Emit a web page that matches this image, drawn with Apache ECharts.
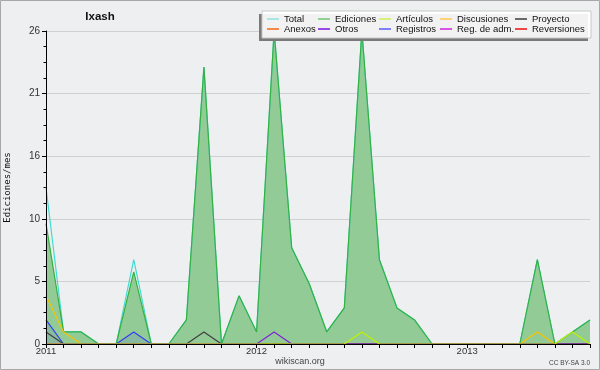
<!DOCTYPE html>
<html>
<head>
    <meta charset="UTF-8">
    <title>Ixash</title>
    <script src="https://cdn.jsdelivr.net/npm/echarts@6/dist/echarts.min.js"></script>
</head>
<body style="margin:0;background:#fff;">
<div id="chart" style="width:600px;height:370px;"></div>
<script type="text/javascript">
    // meses: ene 2011 - ago 2013
    var months = [
        '2011-01', '2011-02', '2011-03', '2011-04', '2011-05', '2011-06', '2011-07', '2011-08', '2011-09', '2011-10', '2011-11', '2011-12',
        '2012-01', '2012-02', '2012-03', '2012-04', '2012-05', '2012-06', '2012-07', '2012-08', '2012-09', '2012-10', '2012-11', '2012-12',
        '2013-01', '2013-02', '2013-03', '2013-04', '2013-05', '2013-06', '2013-07', '2013-08'
    ];
    var yTicks = [0, 5, 10, 16, 21, 26];

    var total       = [13, 1, 1, 0, 0, 7, 0, 0, 2, 23, 0, 4, 1, 26, 8, 5, 1, 3, 26, 7, 3, 2, 0, 0, 0, 0, 0, 0, 7, 0, 1, 2];
    var ediciones   = [10, 1, 1, 0, 0, 6, 0, 0, 2, 23, 0, 4, 1, 26, 8, 5, 1, 3, 26, 7, 3, 2, 0, 0, 0, 0, 0, 0, 7, 0, 1, 2];
    var articulos   = [0, 0, 0, 0, 0, 0, 0, 0, 0, 0, 0, 0, 0, 0, 0, 0, 0, 0, 1, 0, 0, 0, 0, 0, 0, 0, 0, 0, 0, 0, 1, 0];
    var discusiones = [4, 1, 0, 0, 0, 0, 0, 0, 0, 0, 0, 0, 0, 0, 0, 0, 0, 0, 0, 0, 0, 0, 0, 0, 0, 0, 0, 0, 1, 0, 0, 0];
    var proyecto    = [1, 0, 0, 0, 0, 0, 0, 0, 0, 1, 0, 0, 0, 0, 0, 0, 0, 0, 0, 0, 0, 0, 0, 0, 0, 0, 0, 0, 0, 0, 0, 0];
    var anexos      = [0, 0, 0, 0, 0, 0, 0, 0, 0, 0, 0, 0, 0, 0, 0, 0, 0, 0, 0, 0, 0, 0, 0, 0, 0, 0, 0, 0, 0, 0, 0, 0];
    var otros       = [0, 0, 0, 0, 0, 0, 0, 0, 0, 0, 0, 0, 0, 1, 0, 0, 0, 0, 0, 0, 0, 0, 0, 0, 0, 0, 0, 0, 0, 0, 0, 0];
    var registros   = [2, 0, 0, 0, 0, 1, 0, 0, 0, 0, 0, 0, 0, 0, 0, 0, 0, 0, 0, 0, 0, 0, 0, 0, 0, 0, 0, 0, 0, 0, 0, 0];
    var regAdm      = [0, 0, 0, 0, 0, 0, 0, 0, 0, 0, 0, 0, 0, 0, 0, 0, 0, 0, 0, 0, 0, 0, 0, 0, 0, 0, 0, 0, 0, 0, 0, 0];
    var reversiones = [0, 0, 0, 0, 0, 0, 0, 0, 0, 0, 0, 0, 0, 0, 0, 0, 0, 0, 0, 0, 0, 0, 0, 0, 0, 0, 0, 0, 0, 0, 0, 0];

    var font = 'Liberation Sans';
    var chart = echarts.init(document.getElementById('chart'));

    function line(name, color, data, area) {
        var s = {
            name: name,
            type: 'line',
            data: data,
            symbol: 'none',
            lineStyle: {color: color, width: 1.2},
            itemStyle: {color: color},
            emphasis: {disabled: true}
        };
        if (area) {
            s.areaStyle = area;
        }
        return s;
    }

    // leyenda en 2 filas x 5 columnas
    var legendItems = [
        {name: 'Total', color: '#a8e6e4'},
        {name: 'Ediciones', color: '#8fd394'},
        {name: 'Artículos', color: '#d4f27a'},
        {name: 'Discusiones', color: '#ffd27a'},
        {name: 'Proyecto', color: '#6a6a6a'},
        {name: 'Anexos', color: '#f58a4a'},
        {name: 'Otros', color: '#9a4ae6'},
        {name: 'Registros', color: '#8080f8'},
        {name: 'Reg. de adm.', color: '#d855e6'},
        {name: 'Reversiones', color: '#f04848'}
    ];
    var legendCols = [267, 318, 379, 440, 515];
    var legendRows = [14, 24];

    var legends = legendItems.map(function (it, i) {
        return {
            left: legendCols[i % 5],
            top: legendRows[Math.floor(i / 5)],
            data: [{name: it.name, itemStyle: {color: it.color}}],
            icon: 'rect',
            itemWidth: 12,
            itemHeight: 2,
            padding: 0,
            selectedMode: false,
            z: 20,
            textStyle: {fontFamily: font, fontSize: 9.5, color: '#111'}
        };
    });

    var option = {
        backgroundColor: '#eeeff0',
        animation: false,
        grid: {left: 46, right: 10, top: 31, bottom: 26, outerBoundsMode: 'none'},
        legend: legends,
        xAxis: {
            type: 'category',
            data: months,
            boundaryGap: false,
            z: 5,
            axisLine: {lineStyle: {color: '#000', width: 1}},
            axisTick: {show: true, interval: 0, length: 4, lineStyle: {color: '#000'}},
            axisLabel: {
                interval: 0,
                margin: 2,
                fontFamily: font,
                fontSize: 9.5,
                color: '#333',
                formatter: function (v) {
                    return v.slice(5) === '01' ? v.slice(0, 4) : '';
                }
            },
            splitLine: {show: false}
        },
        yAxis: [{
            type: 'value',
            min: 0,
            max: 26,
            interval: 5.2,
            name: 'Ediciones/mes',
            nameLocation: 'middle',
            nameGap: 34,
            nameRotate: 90,
            nameTextStyle: {fontFamily: 'DejaVu Sans Mono', fontSize: 9, color: '#111'},
            axisLine: {show: false},
            axisTick: {show: true, length: 4, lineStyle: {color: '#000'}},
            minorTick: {show: true, splitNumber: 4, length: 2.5, lineStyle: {color: '#000'}},
            axisLabel: {
                margin: 6,
                fontFamily: font,
                fontSize: 10,
                color: '#333',
                formatter: function (v) {
                    return yTicks[Math.round(v / 5.2)];
                }
            },
            splitLine: {show: true, lineStyle: {color: '#cfd0d2', width: 1}}
        }, {
            type: 'value',
            min: 0,
            max: 26,
            position: 'left',
            z: 5,
            axisLine: {show: true, lineStyle: {color: '#000', width: 1}},
            axisTick: {show: false},
            axisLabel: {show: false},
            splitLine: {show: false}
        }],
        series: [
            line('Total', '#3fdcd2', total),
            line('Ediciones', '#36b040', ediciones, {color: '#93cb96', opacity: 1}),
            line('Anexos', '#ff7f27', anexos),
            line('Reg. de adm.', '#d000d0', regAdm),
            line('Reversiones', '#ff2020', reversiones),
            line('Registros', '#3340ee', registros, {color: '#3340ee', opacity: 0.12}),
            line('Discusiones', '#f5c400', discusiones),
            line('Proyecto', '#404040', proyecto),
            line('Otros', '#8020d8', otros),
            line('Artículos', '#bff000', articulos)
        ],
        graphic: [
            {
                type: 'rect', z: 100, silent: true,
                shape: {x: 0.5, y: 0.5, width: 599, height: 369},
                style: {fill: 'none', stroke: '#a8a8a8', lineWidth: 1}
            },
            {
                type: 'rect', z: 10, silent: true,
                shape: {x: 259, y: 14, width: 329, height: 27},
                style: {fill: '#7a7a7a'}
            },
            {
                type: 'rect', z: 11, silent: true,
                shape: {x: 262, y: 11, width: 329, height: 27},
                style: {fill: 'rgba(255,255,255,0.9)', stroke: '#c8c8c8', lineWidth: 1}
            },
            {
                type: 'text', z: 12, silent: true,
                style: {text: 'Ixash', x: 100, y: 17, align: 'center', verticalAlign: 'middle',
                    font: 'bold 11.5px "Liberation Sans"', fill: '#111'}
            },
            {
                type: 'text', z: 12, silent: true,
                style: {text: 'wikiscan.org', x: 300, y: 362, align: 'center', verticalAlign: 'middle',
                    font: '9px "Liberation Sans"', fill: '#444'}
            },
            {
                type: 'text', z: 12, silent: true,
                style: {text: 'CC BY-SA 3.0', x: 590, y: 363, align: 'right', verticalAlign: 'middle',
                    font: '6.5px "Liberation Sans"', fill: '#444'}
            }
        ]
    };
    chart.setOption(option);
</script>
</body>
</html>
